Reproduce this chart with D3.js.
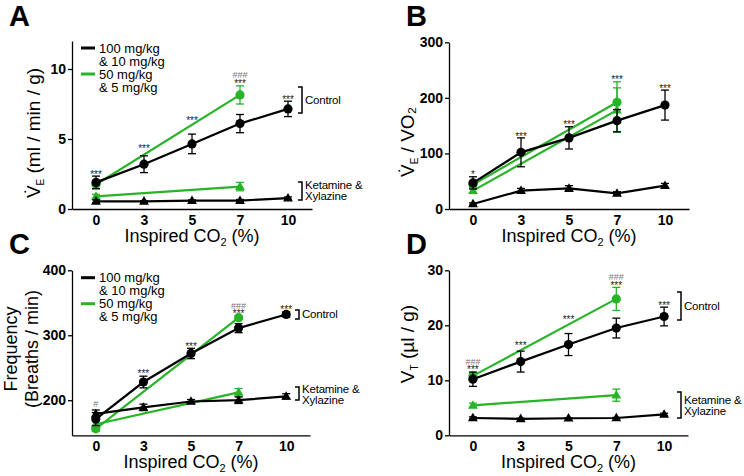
<!DOCTYPE html>
<html lang="en">
<head>
<meta charset="UTF-8" />
<title>Ventilation under ketamine / xylazine</title>
<style>
  body { margin: 0; background: #fff; }
  svg { font-family: "Liberation Sans", Arial, sans-serif; }
  .axis path, .axis line { stroke: #000; stroke-width: 1.3; }
  .axis text { font-size: 14px; font-weight: bold; fill: #000; }
</style>
</head>
<body>
<svg id="fig" width="744" height="476"></svg>
<script src="https://d3js.org/d3.v7.min.js"></script>
<script>
const co2 = ['0', '3', '5', '7', '10'];

// A: minute ventilation (ml / min / g)
const veCtrlHigh = [1.9, 3.2, 4.65, 6.1, 7.15];
const veCtrlHighErr = [0.45, 0.6, 0.7, 0.65, 0.55];
const veCtrlLow = [1.75, null, null, 8.15, null];
const veCtrlLowErr = [0.3, null, null, 0.65, null];
const veKetHigh = [0.55, 0.55, 0.6, 0.6, 0.78];
const veKetHighErr = [0.1, 0.05, 0.05, 0.08, 0.08];
const veKetLow = [0.9, null, null, 1.6, null];
const veKetLowErr = [0.15, null, null, 0.3, null];
const statsA = [['0', '***', 2.6], ['3', '***', 4.45], ['5', '***', 6.5], ['7', '***', 9.14], ['7', '###', 9.6], ['10', '***', 7.95]];

// B: VE / VO2
const vo2CtrlHigh = [47, 102, 128, 159, 187];
const vo2CtrlHighErr = [11, 26, 20, 20, 27];
const vo2CtrlLow = [44, null, null, 192, null];
const vo2CtrlLowErr = [6, null, null, 37, null];
const vo2KetHigh = [9, 33, 37, 28, 42];
const vo2KetHighErr = [2, 4, 5, 3, 4];
const vo2KetLow = [33, null, null, 178, null];
const vo2KetLowErr = [5, null, null, 40, null];
const statsB = [['0', '*', 65], ['3', '***', 134], ['5', '***', 156], ['7', '***', 237], ['10', '***', 220]];

// C: breathing frequency (breaths / min)
const frCtrlHigh = [171, 228, 272, 311, 332];
const frCtrlHighErr = [10, 9, 8, 7, 4];
const frCtrlLow = [156, null, null, 327, null];
const frCtrlLowErr = [4, null, null, 3, null];
const frKetHigh = [179, 189, 198, 200, 206];
const frKetHighErr = [6, 5, 3, 5, 4];
const frKetLow = [163, null, null, 212, null];
const frKetLowErr = [5, null, null, 6, null];
const statsC = [['0', '#', 194], ['3', '***', 245], ['5', '***', 286], ['7', '***', 336], ['7', '###', 346], ['10', '***', 343.5]];

// D: tidal volume (ul / g)
const vtCtrlHigh = [10.2, 13.4, 16.5, 19.5, 21.6];
const vtCtrlHighErr = [1.3, 1.9, 2.0, 1.8, 1.7];
const vtCtrlLow = [10.8, null, null, 24.8, null];
const vtCtrlLowErr = [0.5, null, null, 2.1, null];
const vtKetHigh = [3.15, 3.0, 3.1, 3.15, 3.8];
const vtKetHighErr = [0.2, 0.1, 0.1, 0.1, 0.2];
const vtKetLow = [5.45, null, null, 7.3, null];
const vtKetLowErr = [0.4, null, null, 1.1, null];
const statsD = [['0', '***', 12.3], ['0', '###', 13.4], ['3', '***', 16.8], ['5', '***', 21.5], ['7', '***', 27.7], ['7', '###', 28.8], ['10', '***', 23.9]];

const BLACK = '#000';
const GREEN = '#27b427';

const svg = d3.select('#fig');

function panel(o) {
  const g = svg.append('g');
  const x = d3.scalePoint().domain(co2).range(o.xr).padding(0.5);
  const y = d3.scaleLinear().domain(o.yd).range(o.yr);

  g.append('g')
    .attr('class', 'axis')
    .attr('transform', `translate(${o.xr[0]},0)`)
    .call(d3.axisLeft(y).tickValues(o.ticks).tickSize(4).tickSizeOuter(0).tickPadding(2));

  g.append('g')
    .attr('class', 'axis')
    .attr('transform', `translate(0,${o.yr[0]})`)
    .call(d3.axisBottom(x).tickSize(0).tickSizeOuter(0).tickPadding(6));

  // x title
  const xt = g.append('text')
    .attr('x', (o.xr[0] + o.xr[1]) / 2)
    .attr('y', o.yr[0] + 33)
    .attr('text-anchor', 'middle')
    .style('font-size', '18px');
  xt.append('tspan').text('Inspired CO');
  xt.append('tspan').attr('dy', 4).style('font-size', '11px').text('2');
  xt.append('tspan').attr('dy', -4).text(' (%)');

  // y title
  o.ylabel(g);

  // panel letter
  g.append('text')
    .attr('x', o.letterPos[0])
    .attr('y', o.letterPos[1])
    .style('font-size', '29px')
    .style('font-weight', 'bold')
    .text(o.letter);

  const line = d3.line().x(d => x(d.c)).y(d => y(d.v));

  o.series.forEach(s => {
    const pts = co2.map((c, i) => ({ c, v: s.v[i], e: s.e[i] })).filter(d => d.v != null);
    const sg = g.append('g');
    sg.append('path')
      .attr('d', line(pts))
      .attr('fill', 'none')
      .attr('stroke', s.color)
      .attr('stroke-width', 2.2);
    const eb = sg.selectAll('.eb').data(pts).enter().append('g')
      .attr('stroke', s.color).attr('stroke-width', 1.3);
    eb.append('line')
      .attr('x1', d => x(d.c)).attr('x2', d => x(d.c))
      .attr('y1', d => y(d.v - d.e)).attr('y2', d => y(d.v + d.e));
    eb.append('line')
      .attr('x1', d => x(d.c) - 4).attr('x2', d => x(d.c) + 4)
      .attr('y1', d => y(d.v + d.e)).attr('y2', d => y(d.v + d.e));
    eb.append('line')
      .attr('x1', d => x(d.c) - 4).attr('x2', d => x(d.c) + 4)
      .attr('y1', d => y(d.v - d.e)).attr('y2', d => y(d.v - d.e));
    if (s.shape === 'circle') {
      sg.selectAll('circle').data(pts).enter().append('circle')
        .attr('cx', d => x(d.c)).attr('cy', d => y(d.v))
        .attr('r', 4.6).attr('fill', s.color);
    } else {
      sg.selectAll('.tri').data(pts).enter().append('path')
        .attr('d', d3.symbol(d3.symbolTriangle, 42))
        .attr('transform', d => `translate(${x(d.c)},${y(d.v) + 0.5})`)
        .attr('fill', s.color);
    }
  });

  // significance marks
  g.selectAll('.stat').data(o.stats).enter().append('text')
    .attr('x', d => x(d[0]))
    .attr('y', d => y(d[2]) + (d[1][0] === '#' ? 3.3 : 5.6))
    .attr('text-anchor', 'middle')
    .style('font-size', d => d[1][0] === '#' ? '9px' : '10px')
    .style('fill', d => d[1][0] === '#' ? '#777' : '#222')
    .text(d => d[1]);

  // brackets
  (o.brackets || []).forEach(b => {
    g.append('path')
      .attr('d', `M${b.x - 4},${b.y0}H${b.x}V${b.y1}H${b.x - 4}`)
      .attr('fill', 'none').attr('stroke', '#000').attr('stroke-width', 1.5);
    b.lines.forEach((t, i) => {
      g.append('text')
        .attr('x', b.x + 3)
        .attr('y', b.ty + i * 10.5)
        .style('font-size', '11.5px')
        .style('letter-spacing', '-0.2px')
        .text(t);
    });
  });

  // legend
  if (o.legend) {
    const [lx, ly] = o.legend;
    [[BLACK, '100 mg/kg', '& 10 mg/kg'], [GREEN, '50 mg/kg', '& 5 mg/kg']].forEach((d, i) => {
      const yy = ly + i * 26;
      g.append('line')
        .attr('x1', lx).attr('x2', lx + 14).attr('y1', yy).attr('y2', yy)
        .attr('stroke', d[0]).attr('stroke-width', 3);
      g.append('text').attr('x', lx + 18).attr('y', yy + 4.5).style('font-size', '13px').text(d[1]);
      g.append('text').attr('x', lx + 18).attr('y', yy + 17.5).style('font-size', '13px').text(d[2]);
    });
  }
}

function ylab(tx, ty, main, sub, rest) {
  return g => {
    const t = g.append('text')
      .attr('transform', `translate(${tx},${ty}) rotate(-90)`)
      .attr('text-anchor', 'middle')
      .style('font-size', '19px');
    t.append('tspan').text(main);
    t.append('tspan').attr('dy', 4).style('font-size', '10px').text(sub);
    t.append('tspan').attr('dy', -4).text(rest);
  };
}

function seriesOf(ch, che, cl, cle, kh, khe, kl, kle) {
  return [
    { v: cl, e: cle, color: GREEN, shape: 'circle' },
    { v: kl, e: kle, color: GREEN, shape: 'tri' },
    { v: kh, e: khe, color: BLACK, shape: 'tri' },
    { v: ch, e: che, color: BLACK, shape: 'circle' }
  ];
}

panel({
  letter: 'A', letterPos: [9, 26],
  xr: [72, 312], yr: [209, 41], yd: [0, 12], ticks: [0, 5, 10],
  ylabel: ylab(40, 133, 'V\u0307', 'E', '  (ml / min / g)'),
  series: seriesOf(veCtrlHigh, veCtrlHighErr, veCtrlLow, veCtrlLowErr, veKetHigh, veKetHighErr, veKetLow, veKetLowErr),
  stats: statsA,
  brackets: [
    { x: 302, y0: 87, y1: 113, ty: 104, lines: ['Control'] },
    { x: 302, y0: 182, y1: 200, ty: 189, lines: ['Ketamine &', 'Xylazine'] }
  ],
  legend: [81, 48]
});

panel({
  letter: 'B', letterPos: [406, 26],
  xr: [449, 689], yr: [209, 42.3], yd: [0, 300], ticks: [0, 100, 200, 300],
  ylabel: ylab(414, 142, 'V\u0307', 'E', ' / VO\u2082'),
  series: seriesOf(vo2CtrlHigh, vo2CtrlHighErr, vo2CtrlLow, vo2CtrlLowErr, vo2KetHigh, vo2KetHighErr, vo2KetLow, vo2KetLowErr),
  stats: statsB
});

panel({
  letter: 'C', letterPos: [9, 254],
  xr: [72, 310], yr: [435.3, 270.3], yd: [146, 400], ticks: [200, 300, 400],
  ylabel: g => {
    ['Frequency', '(Breaths / min)'].forEach((t, i) => {
      g.append('text')
        .attr('transform', `translate(${17 + i * 21},349) rotate(-90)`)
        .attr('text-anchor', 'middle')
        .style('font-size', '18px')
        .text(t);
    });
  },
  series: seriesOf(frCtrlHigh, frCtrlHighErr, frCtrlLow, frCtrlLowErr, frKetHigh, frKetHighErr, frKetLow, frKetLowErr),
  stats: statsC,
  brackets: [
    { x: 299, y0: 310, y1: 319, ty: 318, lines: ['Control'] },
    { x: 299, y0: 387, y1: 400, ty: 393, lines: ['Ketamine &', 'Xylazine'] }
  ],
  legend: [81, 277.7]
});

panel({
  letter: 'D', letterPos: [406, 254],
  xr: [449, 688], yr: [435.3, 270.3], yd: [0, 30], ticks: [0, 10, 20, 30],
  ylabel: ylab(414, 344, 'V', 'T', '  (\u00b5l / g)'),
  series: seriesOf(vtCtrlHigh, vtCtrlHighErr, vtCtrlLow, vtCtrlLowErr, vtKetHigh, vtKetHighErr, vtKetLow, vtKetLowErr),
  stats: statsD,
  brackets: [
    { x: 681, y0: 292, y1: 320, ty: 310, lines: ['Control'] },
    { x: 681, y0: 392, y1: 418, ty: 404, lines: ['Ketamine &', 'Xylazine'] }
  ]
});
</script>
</body>
</html>
